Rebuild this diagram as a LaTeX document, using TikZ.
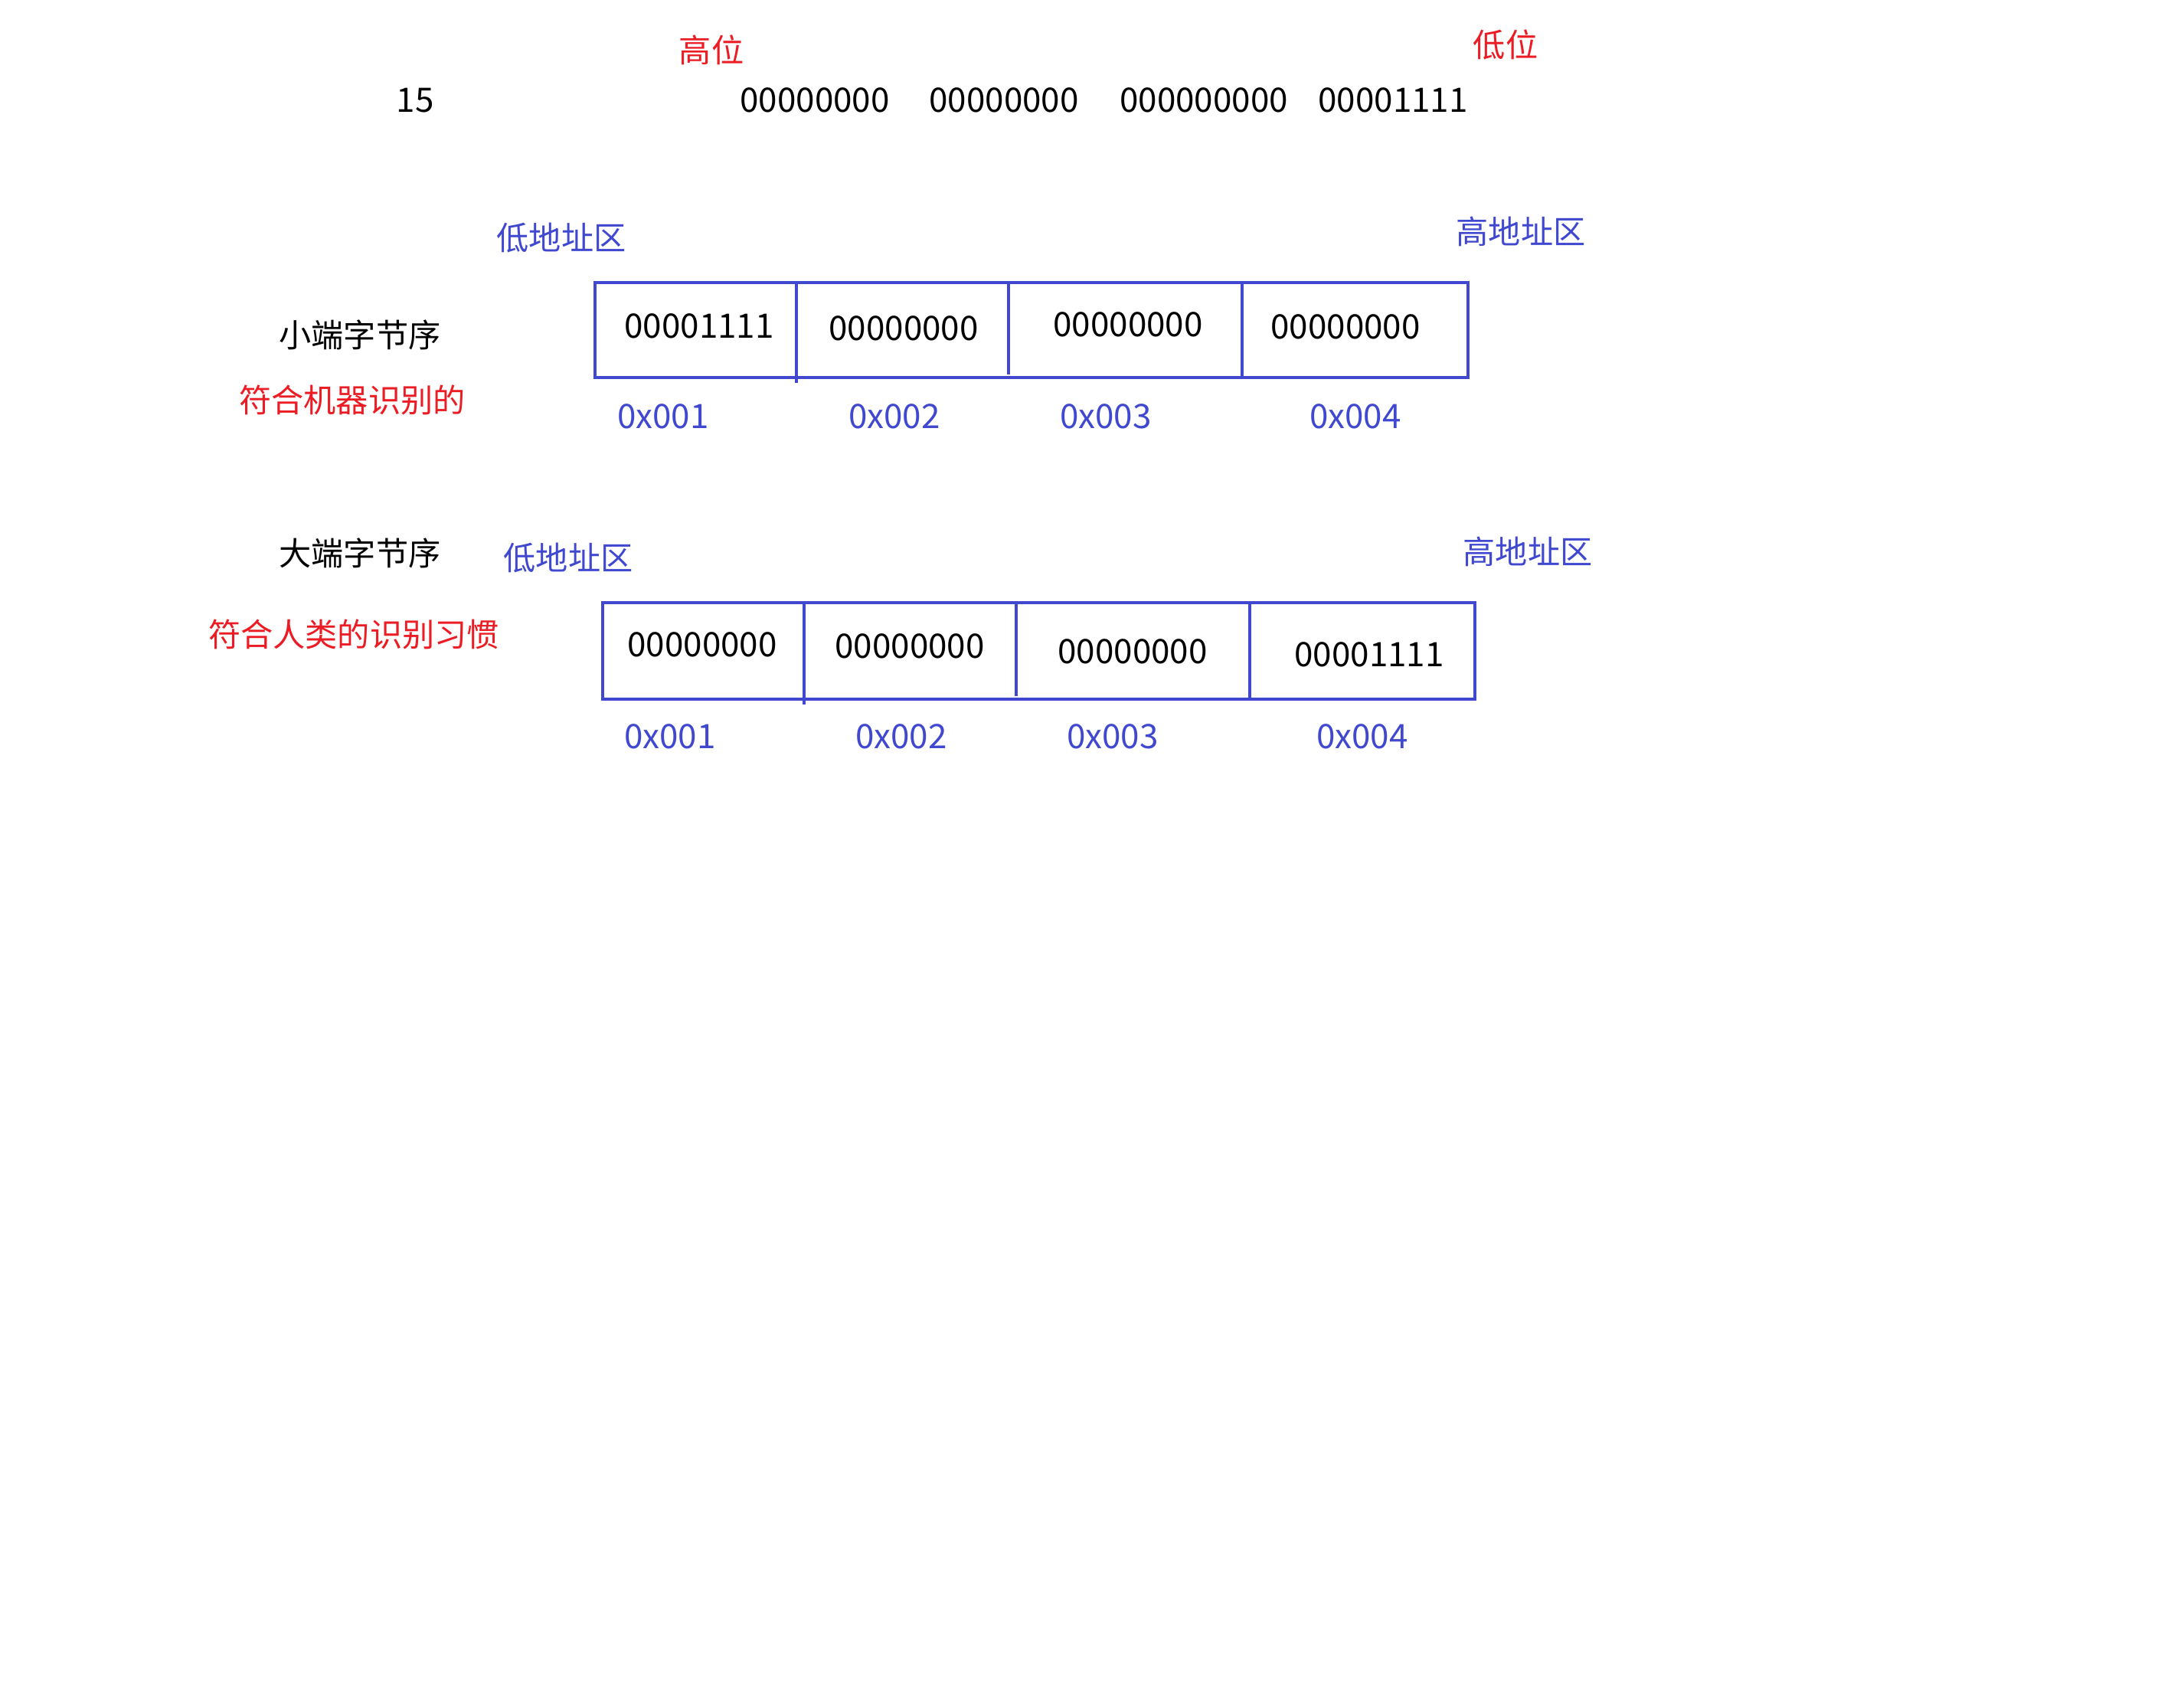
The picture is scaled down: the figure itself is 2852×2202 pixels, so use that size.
\documentclass[tikz,border=0pt]{standalone}
\usepackage{fontspec}
\setmainfont{Noto Sans CJK SC}
\usepackage{xcolor}
\usepackage{tikz}
\definecolor{boxblue}{RGB}{64, 72, 208}
\definecolor{markred}{RGB}{235, 28, 36}
\usetikzlibrary{positioning}

\begin{document}
\begin{tikzpicture}[
    x=0.01cm, y=-0.01cm,
    txt/.style={font=\fontsize{12.5}{15}\selectfont, inner sep=0pt},
    cjk/.style={font=\fontsize{12}{14}\selectfont, inner sep=0pt},
    hint/.style={cjk, text=markred},
    area/.style={cjk, text=boxblue},
    addr/.style={txt, text=boxblue},
    frame/.style={draw=boxblue, line width=1.3pt},
    divider/.style={draw=boxblue, line width=0.9pt}
]
    \useasboundingbox (0,0) rectangle (2852,2202);

    % Number and its bytes
    \node[txt] (num) at (542, 131) {15};
    \node[hint] (hi) at (929, 65) {高位};
    \node[hint] (lo) at (1966, 58) {低位};
    \node[txt] (n1) at (1064, 131) {00000000};
    \node[txt] (n2) at (1311, 131) {00000000};
    \node[txt] (n3) at (1572, 131) {000000000};
    \node[txt] (n4) at (1819, 131) {00001111};

    % Little endian
    \node[cjk] (little) at (470, 437) {小端字节序};
    \node[hint] (machine) at (460, 522) {符合机器识别的};
    \node[area] (llow) at (733, 311) {低地址区};
    \node[area] (lhigh) at (1986, 302) {高地址区};
    \draw[frame] (777, 369) rectangle (1917, 493);
    \draw[divider] (1040, 369) -- (1040, 500);
    \draw[divider] (1317, 369) -- (1317, 489);
    \draw[divider] (1622, 369) -- (1622, 493);
    \node[txt] (l1) at (913, 426) {00001111};
    \node[txt] (l2) at (1180, 429) {00000000};
    \node[txt] (l3) at (1473, 424) {00000000};
    \node[txt] (l4) at (1757, 427) {00000000};
    \node[addr] (la1) at (866, 544) {0x001};
    \node[addr] (la2) at (1168, 544) {0x002};
    \node[addr] (la3) at (1444, 544) {0x003};
    \node[addr] (la4) at (1770, 544) {0x004};

    % Big endian
    \node[cjk] (big) at (470, 722) {大端字节序};
    \node[hint] (human) at (462, 828) {符合人类的识别习惯};
    \node[area] (blow) at (742, 729) {低地址区};
    \node[area] (bhigh) at (1995, 720) {高地址区};
    \draw[frame] (787, 787) rectangle (1926, 913);
    \draw[divider] (1050, 787) -- (1050, 920);
    \draw[divider] (1327, 787) -- (1327, 909);
    \draw[divider] (1632, 787) -- (1632, 913);
    \node[txt] (b1) at (917, 842) {00000000};
    \node[txt] (b2) at (1188, 844) {00000000};
    \node[txt] (b3) at (1479, 851) {00000000};
    \node[txt] (b4) at (1788, 855) {00001111};
    \node[addr] (ba1) at (875, 962) {0x001};
    \node[addr] (ba2) at (1177, 962) {0x002};
    \node[addr] (ba3) at (1453, 962) {0x003};
    \node[addr] (ba4) at (1779, 962) {0x004};
\end{tikzpicture}
\end{document}
